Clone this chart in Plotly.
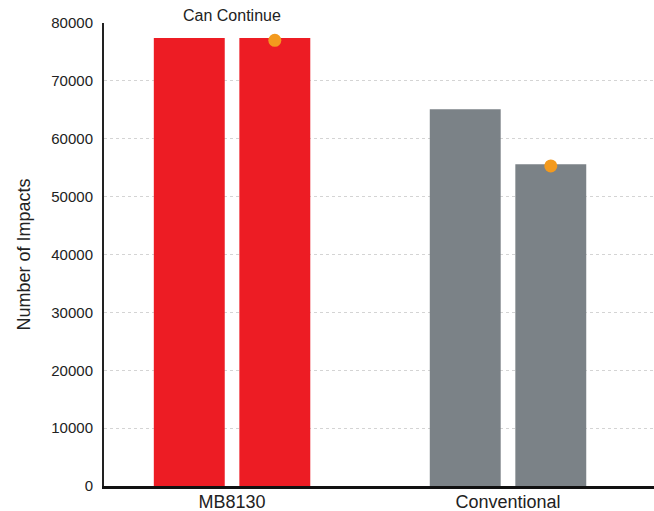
import plotly.graph_objects as go

categories = ["MB8130", "Conventional"]
series_a = [77400, 65100]
series_b = [77400, 55600]
dot_values = [77000, 55300]
bar_colors = ["#ED1C24", "#7B8287"]
annotation_text = "Can Continue"
y_ticks = list(range(0, 80001, 10000))
y_tick_labels = [str(v) for v in y_ticks]

pos = list(range(len(categories)))
w = 0.257
off = 0.155

fig = go.Figure()
fig.add_trace(go.Bar(x=[p - off for p in pos], y=series_a, width=w,
                     marker=dict(color=bar_colors, line=dict(width=0)), showlegend=False))
fig.add_trace(go.Bar(x=[p + off for p in pos], y=series_b, width=w,
                     marker=dict(color=bar_colors, line=dict(width=0)), showlegend=False))
fig.add_trace(go.Scatter(x=[p + off for p in pos], y=dot_values, mode="markers",
                         marker=dict(color="#F39A1E", size=13), showlegend=False))

fig.add_annotation(x=pos[0], y=1, xref="x", yref="paper", text=annotation_text,
                   showarrow=False, yanchor="bottom", yshift=-3,
                   font=dict(size=16, color="#222"))

fig.update_layout(
    width=654, height=511,
    margin=dict(l=104, r=0, t=23, b=25),
    paper_bgcolor="white", plot_bgcolor="white",
    barmode="overlay",
    font=dict(family="Liberation Sans, Arial", color="#222"),
)
fig.update_xaxes(range=[-0.464, 1.529], tickvals=pos, ticktext=categories,
                 tickfont=dict(size=18), showgrid=False, zeroline=False,
                 showline=True, linecolor="#111", linewidth=3, ticks="",
                 automargin=False, ticklabelstandoff=-3)
fig.update_yaxes(range=[0, 80000], tickvals=y_ticks, ticktext=y_tick_labels,
                 tickfont=dict(size=15), automargin=False,
                 showgrid=True, gridcolor="#d4d4d4", griddash="dot", gridwidth=1,
                 zeroline=False, showline=True, linecolor="#222", linewidth=2,
                 ticks="", ticklabelstandoff=6,
                 title=dict(text="Number of Impacts", font=dict(size=18), standoff=16))

fig.write_html("out.html")
